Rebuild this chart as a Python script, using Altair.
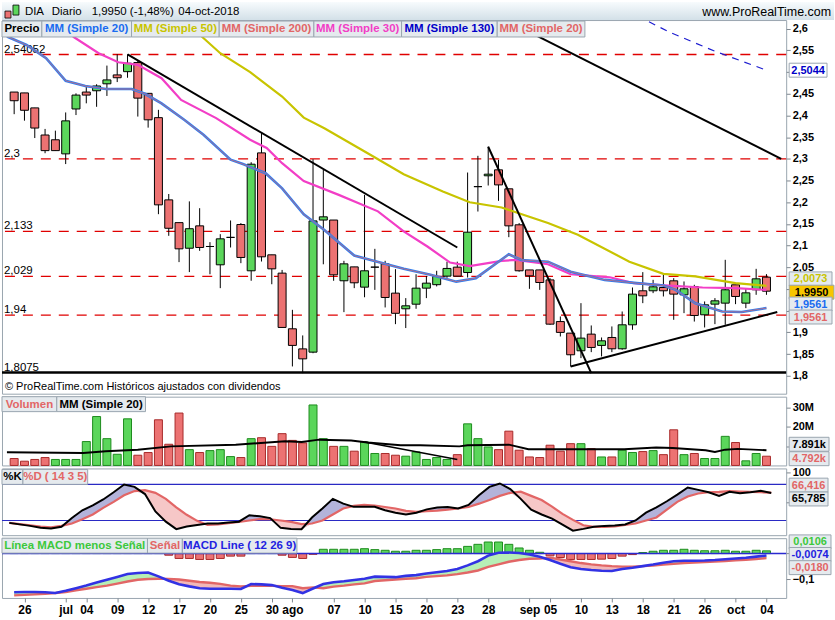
import altair as alt
import pandas as pd

# ---------------- data ----------------
days = list(range(74))  # trading days 25-jun-2018 .. 04-oct-2018
tick_days = [1, 5, 7, 10, 13, 16, 19, 22, 25, 27, 31, 34, 37, 40, 43, 46, 50, 52, 55, 58, 61, 64, 67, 70, 73]
tick_text = ['26', 'jul', '04', '09', '12', '17', '20', '25', '30', 'ago', '07', '10', '15', '20', '23', '28',
             'sep', '05', '10', '13', '18', '21', '26', 'oct', '04']

opens = [2.454, 2.452, 2.4175, 2.355, 2.344, 2.3115, 2.415, 2.454, 2.457, 2.473,
         2.4935, 2.501, 2.522, 2.451, 2.395, 2.2055, 2.153, 2.094, 2.1456, 2.098,
         2.0558, 2.119, 2.1487, 2.042, 2.3138, 2.0788, 2.0366, 1.9083, 1.862, 1.8545,
         2.159, 2.159, 2.019, 2.051, 2.0043, 2.0504, 2.058, 1.9905, 1.9544, 1.965,
         2.002, 2.01, 2.0297, 2.0504, 2.038, 2.236, 2.261, 2.2747, 2.231, 2.148,
         2.044, 2.044, 2.021, 1.925, 1.8983, 1.8576, 1.896, 1.87, 1.8883, 1.8622,
         1.9175, 1.9959, 1.9959, 2.0035, 2.0189, 1.9866, 2.0058, 1.9406, 1.9651, 1.9674,
         2.0097, 1.9674, 1.9982, 2.0273]
highs = [2.454, 2.452, 2.4175, 2.369, 2.365, 2.407, 2.451, 2.47, 2.472, 2.515,
         2.541, 2.541, 2.528, 2.451, 2.413, 2.219, 2.153, 2.202, 2.1863, 2.108,
         2.1264, 2.158, 2.152, 2.2923, 2.36, 2.0788, 2.044, 1.952, 1.893, 2.299,
         2.276, 2.159, 2.065, 2.051, 2.217, 2.0926, 2.065, 2.0458, 1.979, 2.034,
         2.03, 2.042, 2.063, 2.063, 2.2685, 2.307, 2.3284, 2.2977, 2.231, 2.152,
         2.044, 2.044, 2.025, 1.9367, 1.8983, 1.9674, 1.916, 1.8883, 1.9137, 1.9482,
         2.0035, 2.0389, 2.0212, 2.0343, 2.025, 2.0174, 2.0097, 1.9713, 1.979, 2.0673,
         2.0097, 2.002, 2.0465, 2.0343]
lows = [2.403, 2.388, 2.348, 2.313, 2.319, 2.288, 2.401, 2.428, 2.42, 2.445,
        2.477, 2.487, 2.3975, 2.372, 2.1725, 2.1226, 2.062, 2.039, 2.088, 2.034,
        2.002, 2.0957, 2.0596, 2.019, 2.0634, 2.011, 1.9114, 1.8215, 1.806, 1.852,
        2.057, 2.019, 1.9467, 2.002, 1.981, 1.998, 1.9575, 1.919, 1.91, 1.9544,
        1.979, 2.006, 2.0258, 2.0297, 2.0266, 2.1786, 2.2386, 2.2032, 2.1195, 2.04,
        2.0004, 1.998, 1.9175, 1.8906, 1.8215, 1.8407, 1.8545, 1.8446, 1.8545, 1.86,
        1.906, 1.9674, 1.9905, 1.9828, 1.929, 1.9444, 1.925, 1.9114, 1.919, 1.9175,
        1.9651, 1.9559, 1.9866, 1.9866]
closes = [2.434, 2.412, 2.371, 2.319, 2.319, 2.3876, 2.447, 2.447, 2.468, 2.482,
          2.487, 2.5205, 2.44, 2.39, 2.194, 2.140, 2.0926, 2.139, 2.0957, 2.098,
          2.1157, 2.119, 2.0727, 2.2877, 2.0742, 2.0465, 1.9114, 1.870, 1.839, 2.157,
          2.1664, 2.0327, 2.058, 2.0143, 2.042, 2.0504, 1.9805, 1.944, 1.9613, 2.002,
          2.0135, 2.029, 2.0474, 2.0297, 2.131, 2.236, 2.2647, 2.24, 2.1456, 2.042,
          2.0304, 2.015, 1.919, 1.90, 1.8484, 1.8868, 1.8653, 1.8806, 1.8622, 1.9175,
          1.9882, 1.9843, 2.005, 1.9959, 1.9882, 2.0005, 1.939, 1.9636, 1.9728, 1.9982,
          1.9828, 1.9912, 2.0235, 1.995]

# moving averages (day position, value)
ma20_x = [-0.7, 1.2, 3.1, 5.0, 6.9, 8.9, 11.4, 12.7, 14.3, 16.5, 18.4, 21.0, 22.2, 24.4, 26.0, 28.1, 30.1,
          33.0, 34.6, 37.8, 40.4, 42.9, 44.8, 48.0, 49.2, 51.8, 54.0, 57.3, 60.4, 63.0, 64.2, 66.1, 68.7, 70.6, 73.0]
ma20_y = [2.582, 2.5625, 2.532, 2.48, 2.468, 2.461, 2.461, 2.45, 2.428, 2.39, 2.355, 2.298, 2.288, 2.267, 2.232,
          2.172, 2.136, 2.077, 2.067, 2.0465, 2.033, 2.017, 2.025, 2.08, 2.067, 2.063, 2.04, 2.021, 2.0135, 2.008,
          1.998, 1.967, 1.948, 1.947, 1.9561]
ma30_x = [5.7, 8.2, 10.1, 12.0, 14.3, 16.2, 19.6, 22.9, 24.5, 26.0, 28.1, 31.5, 35.3, 37.8, 40.1, 42.3, 44.2,
          47.3, 48.7, 51.8, 54.0, 57.8, 60.1, 63.5, 66.8, 70.0, 73.0]
ma30_y = [2.582, 2.5435, 2.5227, 2.5166, 2.486, 2.436, 2.394, 2.344, 2.325, 2.29, 2.249, 2.217, 2.179, 2.133,
          2.098, 2.061, 2.053, 2.065, 2.067, 2.057, 2.034, 2.027, 2.0135, 2.008, 2.0035, 2.002, 1.998]
ma50_x = [18.2, 20.0, 22.9, 26.0, 28.1, 30.1, 34.6, 37.8, 41.6, 44.2, 47.3, 51.8, 54.7, 59.7, 63.0, 66.1, 70.0, 73.0]
ma50_y = [2.582, 2.5435, 2.50, 2.4436, 2.395, 2.3707, 2.309, 2.2647, 2.2247, 2.20, 2.188, 2.152, 2.125, 2.063,
          2.035, 2.029, 2.0135, 2.0073]
ma130_x = [61.6, 63.5, 68.0, 73.0]
ma130_y = [2.616, 2.593, 2.548, 2.5044]

# support / resistance levels and drawn trend lines
level_vals = [2.54052, 2.3, 2.133, 2.029, 1.94]
level_text = ['2,54052', '2,3', '2,133', '2,029', '1,94']
support_val = 1.8075
support_text = '1,8075'
trend_id = ['t1', 't1', 't2', 't2', 't3', 't3', 't4', 't4']
trend_x = [11, 43, 46, 56, 54, 74.05, 49.0, 74.43]
trend_y = [2.541, 2.0957, 2.328, 1.806, 1.8215, 1.947, 2.604, 2.30]

# volume (millions)
volumes = [3.6, 2.2, 3.1, 4.1, 3.1, 3.1, 3.1, 12.4, 25.4, 13.9,
           5.8, 24.2, 5.3, 6.7, 23.7, 11.0, 27.2, 8.2, 6.7, 7.7,
           8.2, 4.6, 4.1, 13.9, 14.4, 9.9, 16.5, 13.0, 11.7, 31.4,
           13.9, 9.9, 9.9, 7.4, 12.2, 6.2, 6.2, 5.3, 4.8, 7.0,
           3.1, 4.1, 3.1, 5.6, 21.6, 13.9, 9.6, 8.2, 17.8, 7.9,
           4.4, 4.1, 10.5, 7.4, 11.3, 11.3, 8.7, 4.4, 4.4, 7.9,
           6.7, 7.2, 7.7, 5.6, 18.5, 5.6, 6.2, 3.6, 3.6, 15.1,
           11.9, 2.4, 6.2, 4.792]
vol_dir = ['d', 'd', 'd', 'd', 'u', 'u', 'u', 'u', 'u', 'u',
           'u', 'u', 'd', 'd', 'd', 'd', 'd', 'u', 'd', 'u',
           'u', 'u', 'd', 'u', 'd', 'd', 'd', 'd', 'd', 'u',
           'u', 'd', 'u', 'd', 'u', 'u', 'd', 'd', 'u', 'u',
           'u', 'u', 'u', 'd', 'u', 'u', 'u', 'd', 'd', 'd',
           'd', 'd', 'd', 'd', 'd', 'u', 'd', 'u', 'd', 'u',
           'u', 'd', 'u', 'd', 'd', 'u', 'd', 'u', 'u', 'u',
           'd', 'u', 'u', 'd']
vma_x = [-0.7, 6.7, 8.9, 12.0, 15.2, 21.5, 26.3, 27.9, 29.6, 32.7, 34.3, 37.5, 39.4, 43.2, 44.0, 48.0, 49.9,
         54.4, 59.2, 62.3, 63.9, 67.1, 68.0, 69.0, 70.2, 73.0]
vma_y = [6.9, 6.5, 7.4, 8.2, 9.9, 10.8, 12.5, 12.2, 13.4, 13.0, 11.9, 10.5, 10.5, 9.9, 10.5, 10.8, 8.4,
         8.4, 8.4, 9.3, 9.1, 7.9, 7.0, 8.2, 8.6, 7.891]
vtrend_x = [34.0, 43.0]
vtrend_y = [12.2, 3.1]

# stochastic %K / %D
stoch_k = [16, 13.5, 11, 8, 6.5, 9.4, 24, 37, 45, 55,
           67, 80, 76, 64, 35, 18, 5.5, 10, 12.5, 15,
           15, 16.5, 18, 28.8, 27, 24, 7.7, 6, 5.5, 25,
           40, 56, 48, 42.7, 42.7, 42.7, 37, 33, 30, 33,
           38.5, 41.5, 42.5, 40, 46, 62, 76, 81.6, 72.2, 56,
           38, 30, 23, 13, 3, 6, 9.4, 11, 11.5, 13.3,
           20, 33, 42, 52, 63, 75, 71, 67, 61, 67.7,
           65.5, 67, 69.4, 65.785]
stoch_d = [16, 14, 12, 10, 8.7, 11, 15, 22, 30, 41,
           51, 62, 69, 70.5, 66, 56, 42, 29.5, 19.4, 12.5,
           13.5, 15.5, 17.5, 20, 22.5, 22, 20, 17.6, 14, 15,
           20, 30, 40, 44.4, 46, 45, 42.5, 40, 36, 34.4,
           35.5, 36.5, 38, 40, 42.5, 48, 54, 61, 66, 68,
           61, 54, 43, 31, 21, 12, 9.4, 9.4, 10, 12.5,
           15, 20, 25, 38, 51, 60, 65, 67, 67.7, 68.8,
           68, 67.5, 67, 66.416]

# MACD
macd_line = [-0.151, -0.150, -0.150, -0.151, -0.154, -0.145, -0.135, -0.1245, -0.113, -0.102,
             -0.091, -0.080, -0.076, -0.074, -0.089, -0.106, -0.120, -0.128, -0.135, -0.137,
             -0.137, -0.137, -0.138, -0.119, -0.120, -0.123, -0.133, -0.142, -0.154, -0.136,
             -0.119, -0.112, -0.108, -0.103, -0.098, -0.090, -0.091, -0.092, -0.087, -0.084,
             -0.078, -0.073, -0.068, -0.060, -0.046, -0.030, -0.008, 0.003, 0.004, 0.002,
             -0.004, -0.012, -0.025, -0.040, -0.053, -0.060, -0.064, -0.067, -0.068, -0.060,
             -0.055, -0.049, -0.043, -0.036, -0.030, -0.028, -0.028, -0.027, -0.025, -0.022,
             -0.019, -0.016, -0.012, -0.0074]
macd_signal = [-0.163, -0.161, -0.159, -0.157, -0.154, -0.150, -0.143, -0.137, -0.131, -0.125,
               -0.117, -0.109, -0.102, -0.099, -0.098, -0.0988, -0.101, -0.106, -0.111, -0.114,
               -0.118, -0.125, -0.128, -0.126, -0.125, -0.126, -0.127, -0.127, -0.135, -0.132,
               -0.135, -0.129, -0.125, -0.120, -0.116, -0.107, -0.104, -0.101, -0.098, -0.096,
               -0.091, -0.088, -0.085, -0.080, -0.074, -0.066, -0.052, -0.042, -0.032, -0.025,
               -0.020, -0.019, -0.016, -0.023, -0.030, -0.037, -0.042, -0.046, -0.049, -0.051,
               -0.051, -0.049, -0.047, -0.043, -0.040, -0.037, -0.035, -0.033, -0.031, -0.029,
               -0.026, -0.024, -0.021, -0.018]
macd_hist = [0.012, 0.011, 0.009, 0.006, 0.001, 0.005, 0.008, 0.0125, 0.018, 0.023,
             0.026, 0.029, 0.026, 0.025, 0.009, -0.0064, -0.019, -0.019, -0.023, -0.023,
             -0.019, -0.010, -0.010, 0.007, 0.005, 0.003, -0.0064, -0.015, -0.019, -0.003,
             0.0167, 0.0167, 0.0167, 0.0167, 0.019, 0.0154, 0.0128, 0.009, 0.009, 0.0128,
             0.0128, 0.0154, 0.019, 0.019, 0.028, 0.036, 0.045, 0.045, 0.036, 0.0218,
             0.0128, 0.005, -0.009, -0.0154, -0.023, -0.023, -0.023, -0.0218, -0.019, -0.010,
             -0.004, 0.004, 0.009, 0.0128, 0.0128, 0.0167, 0.0128, 0.011, 0.011, 0.0128,
             0.009, 0.009, 0.0128, 0.0106]

price_ticks = [1.8, 1.85, 1.9, 1.95, 2.0, 2.05, 2.1, 2.15, 2.2, 2.25, 2.3, 2.35, 2.4, 2.45, 2.5, 2.55, 2.6]
vol_ticks = [10, 20, 30]
stoch_ticks = [50, 100]
macd_ticks = [-0.1, 0]

# ---------------- styling ----------------
FONT = 'Liberation Sans'
GREEN, GREEN_S = '#5bd65b', '#1e8c1e'
RED, RED_S = '#ec7272', '#a82a2a'
SALMON = '#e26666'
GRID = '#9aa6b0'
BOXBG = '#e5eaee'
W = 787

xs = alt.Scale(domain=[-0.697, 74.43], nice=False, zero=False)
py = alt.Scale(domain=[1.7587, 2.620], nice=False, zero=False)
vy = alt.Scale(domain=[0, 35.7], nice=False, zero=False)
sy = alt.Scale(domain=[-4.5, 106.7], nice=False, zero=False)
my = alt.Scale(domain=[-0.1731, 0.060], nice=False, zero=False)


def right_axis(values, expr):
    return alt.Axis(orient='right', values=values, labelExpr=expr, title=None, grid=False, domain=False,
                    tickColor='#7f8890', tickSize=4, labelFont=FONT, labelFontSize=11, labelFontWeight='bold',
                    labelColor='black', labelPadding=2)


# tick labels that sit under the last-value tags are left blank (hidden there in the reference too)
ax_price = right_axis(price_ticks, "indexof([2.5, 2, 1.95], datum.value) >= 0 ? '' : "
                                   "replace(format(datum.value, '.2~f'), '.', ',')")
ax_vol = right_axis(vol_ticks, "datum.value == 10 ? '' : datum.value + 'M'")
ax_stoch = right_axis(stoch_ticks, "datum.value == 50 ? '' : format(datum.value, 'd')")
ax_macd = right_axis(macd_ticks, "datum.value == 0 ? '' : replace(format(datum.value, '.1~f'), '.', ',')")

labels = [''] * len(days)
for d_, t_ in zip(tick_days, tick_text):
    labels[d_] = t_
xexpr = '[' + ','.join(f"'{s}'" for s in labels) + '][datum.value]'
ax_date = alt.Axis(values=tick_days, labelExpr=xexpr, title=None, grid=False, domain=False, ticks=True,
                   tickColor='#7f8890', tickSize=4, labelFont=FONT, labelFontSize=12, labelFontWeight='bold',
                   labelColor='black', labelPadding=3, labelFlush=False, labelOverlap=False)


def X(field='i', axis=None):
    return alt.X(f'{field}:Q', scale=xs, axis=axis)


def legend_layer(items, y0, y1):
    # items: (text, color, left, right)
    d = pd.DataFrame({'t': [a[0] for a in items], 'c': [a[1] for a in items],
                      'x0': [a[2] for a in items], 'x1': [a[3] for a in items]})
    d['xt'] = (d['x0'] + d['x1']) / 2
    base = alt.Chart(d)
    r = base.mark_rect(fill=BOXBG, stroke=GRID, strokeWidth=1).encode(
        x=alt.X('x0:Q', scale=None), x2='x1:Q', y=alt.value(y0), y2=alt.value(y1))
    t = base.mark_text(font=FONT, fontSize=11.5, fontWeight='bold', baseline='middle', align='center').encode(
        x=alt.X('xt:Q', scale=None), y=alt.value((y0 + y1) / 2 + 0.5), text='t:N',
        color=alt.Color('c:N', scale=None))
    return r + t


def tag(scale, axis, value, text, color, bg, dy, x0=790, x1=833):
    d = pd.DataFrame({'v': [value], 't': [text]})
    base = alt.Chart(d)
    r = base.mark_rect(height=14, yOffset=dy, fill=bg, stroke=GRID, strokeWidth=1).encode(
        x=alt.value(x0), x2=alt.value(x1), y=alt.Y('v:Q', scale=scale, axis=axis))
    t = base.mark_text(yOffset=dy + 0.5, font=FONT, fontSize=11, fontWeight='bold', color=color,
                       align='center', baseline='middle').encode(
        x=alt.value((x0 + x1) / 2), y=alt.Y('v:Q', scale=scale, axis=axis), text='t:N')
    return r + t


def fmt(v, nd):
    return f'{v:.{nd}f}'.replace('.', ',')


# ---------------- header ----------------
hdr = alt.Chart(pd.DataFrame({'a': [0]}))
header_bg = hdr.mark_rect(color=alt.Gradient(gradient='linear', x1=0, x2=0, y1=0, y2=1,
                                             stops=[alt.GradientStop(color='#f7fbfd', offset=0),
                                                    alt.GradientStop(color='#d3e0e8', offset=1)])).encode(
    x=alt.value(0), x2=alt.value(835), y=alt.value(0), y2=alt.value(18))
icon_r = hdr.mark_rect(fill=RED, stroke='black', strokeWidth=0.8).encode(
    x=alt.value(3), x2=alt.value(9), y=alt.value(9), y2=alt.value(16))
icon_g = hdr.mark_rect(fill=GREEN, stroke='black', strokeWidth=0.8).encode(
    x=alt.value(11), x2=alt.value(17), y=alt.value(3), y2=alt.value(13))
hdr_items = [('DIA', 23), ('Diario', 50), (fmt(closes[-1], 4) + ' (-1,48%)', 90), ('04-oct-2018', 177)]
header_txt = [hdr.mark_text(text=t, font=FONT, fontSize=11.5, align='left', baseline='middle', color='black').encode(
    x=alt.value(x), y=alt.value(10)) for t, x in hdr_items]
header_site = hdr.mark_text(text='www.ProRealTime.com', font=FONT, fontSize=12.5, align='right',
                            baseline='middle', color='black').encode(x=alt.value(832), y=alt.value(10))
header = alt.layer(header_bg, icon_r, icon_g, *header_txt, header_site).properties(
    width=835, height=15, view=alt.ViewBackground(stroke='transparent'))

# ---------------- price panel ----------------
price = pd.DataFrame({'i': days, 'o': opens, 'h': highs, 'l': lows, 'c': closes})
price['dir'] = ['up' if c > o else 'down' for o, c in zip(opens, closes)]


def Yp(field):
    return alt.Y(f'{field}:Q', scale=py, axis=ax_price)


levels = pd.DataFrame({'v': level_vals, 't': level_text})
lvl_rule = alt.Chart(levels).mark_rule(color='#e00000', strokeWidth=1.3, strokeDash=[10, 8]).encode(y=Yp('v'))
lvl_text = alt.Chart(pd.DataFrame({'v': level_vals + [support_val], 't': level_text + [support_text]})).mark_text(
    font=FONT, fontSize=11.5, align='left', baseline='alphabetic', dy=-2, color='black').encode(
    x=alt.value(2), y=Yp('v'), text='t:N')
sup_rule = alt.Chart(pd.DataFrame({'v': [support_val]})).mark_rule(color='black', strokeWidth=2.5).encode(y=Yp('v'))

wick = alt.Chart(price).mark_rule(color='black', strokeWidth=1).encode(x=X(), y=Yp('l'), y2='h:Q')
body = alt.Chart(price).mark_bar(size=8, stroke='black', strokeWidth=1).encode(
    x=X(), y=Yp('o'), y2='c:Q',
    color=alt.Color('dir:N', scale=alt.Scale(domain=['up', 'down'], range=[GREEN, RED]), legend=None))


def ma_line(xv, yv, color, width, dash=None, opacity=1.0):
    d = pd.DataFrame({'x': xv, 'y': yv})
    kw = dict(color=color, strokeWidth=width, clip=True, opacity=opacity)
    if dash:
        kw['strokeDash'] = dash
    return alt.Chart(d).mark_line(**kw).encode(x=X('x'), y=Yp('y'))


ma50 = ma_line(ma50_x, ma50_y, '#c8c400', 2.2)
ma30 = ma_line(ma30_x, ma30_y, '#f23ec6', 2.2)
ma20 = ma_line(ma20_x, ma20_y, '#2f7ff0', 2.6)
ma20r = ma_line(ma20_x, ma20_y, SALMON, 0.9, opacity=0.8)
ma130 = ma_line(ma130_x, ma130_y, '#1c1cd0', 1.2, dash=[7, 6])

trends = pd.DataFrame({'id': trend_id, 'x': trend_x, 'y': trend_y})
trend = alt.Chart(trends).mark_line(color='black', strokeWidth=2, clip=True).encode(
    x=X('x'), y=Yp('y'), detail='id:N')

price_legend = legend_layer([('Precio', 'black', 0, 40), ('MM (Simple 20)', '#1a6cf0', 40, 130),
                             ('MM (Simple 50)', '#c8c400', 130, 218), ('MM (Simple 200)', SALMON, 218, 313),
                             ('MM (Simple 30)', '#f23ec6', 313, 401), ('MM (Simple 130)', '#0000c8', 401, 497),
                             ('MM (Simple 20)', SALMON, 497, 585)], 1, 17)
copyright_txt = alt.Chart(pd.DataFrame({'a': [0]})).mark_text(
    text='© ProRealTime.com Históricos ajustados con dividendos', font=FONT, fontSize=11, align='left',
    baseline='middle', color='black').encode(x=alt.value(3), y=alt.value(368))

price_tags = [tag(py, ax_price, ma130_y[-1], fmt(ma130_y[-1], 4), '#0000c8', 'white', 0, 790, 828),
              tag(py, ax_price, ma50_y[-1], fmt(ma50_y[-1], 4), '#c8c400', BOXBG, -7),
              tag(py, ax_price, closes[-1], fmt(closes[-1], 4), 'black', '#f7c600', 1, 790, 835),
              tag(py, ax_price, ma20_y[-1], fmt(ma20_y[-1], 4), '#1a6cf0', BOXBG, -4),
              tag(py, ax_price, ma20_y[-1], fmt(ma20_y[-1], 4), SALMON, BOXBG, 9)]

price_chart = alt.layer(lvl_rule, sup_rule, lvl_text, wick, body, ma130, ma50, ma30, ma20, ma20r, trend,
                        price_legend, copyright_txt, *price_tags).properties(width=W, height=375)

# ---------------- volume panel ----------------
vol = pd.DataFrame({'i': days, 'v': volumes, 'dir': vol_dir})
vbars = alt.Chart(vol).mark_bar(size=8, strokeWidth=1).encode(
    x=X(), y=alt.Y('v:Q', scale=vy, axis=ax_vol), y2=alt.datum(0),
    color=alt.Color('dir:N', scale=alt.Scale(domain=['u', 'd'], range=[GREEN, RED]), legend=None),
    stroke=alt.Stroke('dir:N', scale=alt.Scale(domain=['u', 'd'], range=[GREEN_S, RED_S]), legend=None))
vma = alt.Chart(pd.DataFrame({'x': vma_x, 'y': vma_y})).mark_line(color='black', strokeWidth=2).encode(
    x=X('x'), y=alt.Y('y:Q', scale=vy, axis=ax_vol))
vtr = alt.Chart(pd.DataFrame({'x': vtrend_x, 'y': vtrend_y})).mark_line(color='black', strokeWidth=1.6).encode(
    x=X('x'), y=alt.Y('y:Q', scale=vy, axis=ax_vol))
vol_legend = legend_layer([('Volumen', SALMON, 0, 55), ('MM (Simple 20)', 'black', 55, 144)], 0, 15)
vol_tags = [tag(vy, ax_vol, vma_y[-1], f'{vma_y[-1]:.3f}k', 'black', BOXBG, -6, 790, 830),
            tag(vy, ax_vol, volumes[-1], f'{volumes[-1]:.3f}k', SALMON, BOXBG, 2.5, 790, 830)]
vol_chart = alt.layer(vbars, vma, vtr, vol_legend, *vol_tags).properties(width=W, height=69)

# ---------------- stochastic panel ----------------
st = pd.DataFrame({'i': days, 'k': stoch_k, 'd': stoch_d})
sbase = alt.Chart(st).transform_calculate(lo='min(datum.k, datum.d)')


def Ys(field):
    return alt.Y(f'{field}:Q', scale=sy, axis=ax_stoch)


s_rules = alt.Chart(pd.DataFrame({'v': [20, 80]})).mark_rule(color='#2a2ac4', strokeWidth=1.2).encode(y=Ys('v'))
s_up = sbase.mark_area(color='#b3b3da').encode(x=X(), y=Ys('k'), y2='lo:Q')
s_dn = sbase.mark_area(color='#f6c7c7').encode(x=X(), y=Ys('d'), y2='lo:Q')
s_d = sbase.mark_line(color=SALMON, strokeWidth=2.2).encode(x=X(), y=Ys('d'))
s_k = sbase.mark_line(color='black', strokeWidth=2).encode(x=X(), y=Ys('k'))
st_legend = legend_layer([('%K', 'black', 0, 21), ('%D ( 14 3 5)', SALMON, 21, 86)], 1, 16)
st_tags = [tag(sy, ax_stoch, stoch_d[-1], fmt(stoch_d[-1], 3), SALMON, BOXBG, -7.5, 790, 829),
           tag(sy, ax_stoch, stoch_k[-1], fmt(stoch_k[-1], 3), 'black', BOXBG, 6, 790, 829)]
stoch_chart = alt.layer(s_rules, s_up, s_dn, s_d, s_k, st_legend, *st_tags).properties(width=W, height=67)

# ---------------- MACD panel ----------------
md = pd.DataFrame({'i': days, 'm': macd_line, 's': macd_signal, 'h': macd_hist})
md['dir'] = ['u' if h >= 0 else 'd' for h in macd_hist]
mbase = alt.Chart(md).transform_calculate(lo='min(datum.m, datum.s)')


def Ym(field):
    return alt.Y(f'{field}:Q', scale=my, axis=ax_macd)


def Xm(field='i'):
    return alt.X(f'{field}:Q', scale=xs, axis=ax_date)


hbars = alt.Chart(md).mark_bar(size=8, strokeWidth=1).encode(
    x=Xm(), y=Ym('h'), y2=alt.datum(0),
    color=alt.Color('dir:N', scale=alt.Scale(domain=['u', 'd'], range=[GREEN, RED]), legend=None),
    stroke=alt.Stroke('dir:N', scale=alt.Scale(domain=['u', 'd'], range=[GREEN_S, RED_S]), legend=None))
m_zero = alt.Chart(pd.DataFrame({'v': [0]})).mark_rule(color='#2a2ad0', strokeWidth=1.5).encode(y=Ym('v'))
m_up = mbase.mark_area(color='#b6efb6').encode(x=Xm(), y=Ym('m'), y2='lo:Q')
m_dn = mbase.mark_area(color='#f2b8b8').encode(x=Xm(), y=Ym('s'), y2='lo:Q')
m_s = mbase.mark_line(color=SALMON, strokeWidth=2.4).encode(x=Xm(), y=Ym('s'))
m_m = mbase.mark_line(color='#3232e4', strokeWidth=2.6).encode(x=Xm(), y=Ym('m'))
m_legend = legend_layer([('Línea MACD menos Señal', '#3cc83c', 0, 146), ('Señal', SALMON, 146, 181),
                         ('MACD Line ( 12 26 9)', '#2222e0', 181, 296)], 0, 15)
m_tags = [tag(my, ax_macd, macd_hist[-1], fmt(macd_hist[-1], 4), '#3cc83c', BOXBG, -9, 790, 832),
          tag(my, ax_macd, macd_line[-1], fmt(macd_line[-1], 4), '#2222e0', BOXBG, -1, 790, 832),
          tag(my, ax_macd, macd_signal[-1], fmt(macd_signal[-1], 4), SALMON, BOXBG, 9.5, 790, 832)]
macd_chart = alt.layer(hbars, m_zero, m_up, m_dn, m_s, m_m, m_legend, *m_tags).properties(width=W, height=60)

chart = alt.vconcat(header, price_chart, vol_chart, stoch_chart, macd_chart, spacing=3, bounds='flush').properties(
    padding=0, background='white'
).configure_view(stroke=GRID, strokeWidth=1)

chart.save("out.html", embed_options={"renderer": "svg", "actions": False})
